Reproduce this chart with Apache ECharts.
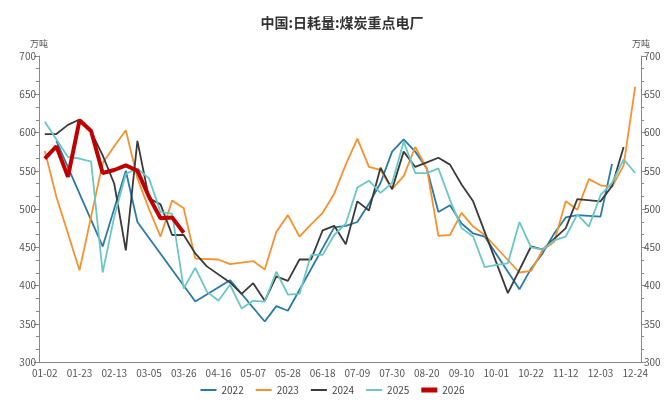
<!DOCTYPE html>
<html><head><meta charset="utf-8">
<script src="https://cdn.jsdelivr.net/npm/echarts@6/dist/echarts.min.js"></script>
<style>html,body{margin:0;padding:0;background:#fff}#c{width:665px;height:401px}</style>
</head><body><div id="c"></div>
<script>
const categories = ["01-02","01-09","01-16","01-23","01-30","02-06","02-13","02-20","02-27","03-05","03-12","03-19","03-26","04-02","04-09","04-16","04-23","04-30","05-07","05-14","05-21","05-28","06-04","06-11","06-18","06-25","07-02","07-09","07-16","07-23","07-30","08-06","08-13","08-20","08-27","09-03","09-10","09-17","09-24","10-01","10-08","10-15","10-22","10-29","11-05","11-12","11-19","11-26","12-03","12-10","12-17","12-24"];
const seriesNames = ["2022","2023","2024","2025","2026"];
const s2022 = [null,589,null,null,null,451,null,550,483,null,null,null,null,379,null,null,407,null,null,353,373,367,null,null,null,476,478,483,507,534,575,591,575,553,496,505,481,468,464,null,null,395,422,442,468,489,492,491,490,559,null,null];
const s2023 = [576,516,null,420,null,560,582,603,540,500,464,511,501,435,null,434,428,null,432,421,470,492,464,480,495,520,558,592,555,551,526,543,581,553,465,466,495,477,466,null,null,417,419,446,457,510,499,539,531,529,557,660];
const s2024 = [598,598,610,617,601,570,533,446,589,514,506,466,466,442,425,null,404,389,403,380,412,406,434,434,472,478,454,510,498,554,526,575,555,561,567,558,532,510,null,null,390,null,451,447,null,475,513,null,510,530,581,null];
const s2025 = [614,null,568,566,562,417,490,546,553,540,496,494,396,423,392,380,401,370,380,379,418,388,389,440,440,466,481,528,537,521,534,588,547,547,553,512,475,464,424,427,429,483,450,447,459,464,493,477,518,534,565,547];
const s2026 = [566,582,542,616,602,547,551,557,550,516,488,489,469,null,null,null,null,null,null,null,null,null,null,null,null,null,null,null,null,null,null,null,null,null,null,null,null,null,null,null,null,null,null,null,null,null,null,null,null,null,null,null];
const colors = ["#2a7aa5","#f5922f","#3a3a3a","#6bc6c6","#c00000"];
const widths = [1.8,1.8,1.8,1.8,4];
const yTicks = {min:300,max:700,interval:50};

const font = '"Noto Sans CJK SC","Noto Sans",sans-serif';
const chart = echarts.init(document.getElementById('c'));
const data = [s2022,s2023,s2024,s2025,s2026];
function yAxis(pos){
  return {
    type:'value', position:pos, min:yTicks.min, max:yTicks.max, interval:yTicks.interval,
    name:'万吨', nameGap:8,
    nameTextStyle:{color:'#555',fontSize:9,fontFamily:font,align:'center'},
    axisLine:{show:true,lineStyle:{color:'#888'}},
    axisTick:{show:true,length:5,lineStyle:{color:'#888'}},
    minorTick:{show:true,splitNumber:3,length:3,lineStyle:{color:'#888'}},
    splitLine:{show:false},
    axisLabel:{color:'#555',fontSize:10,fontFamily:font,margin:3}
  };
}
const thinIcon = 'path://M0,0L16,0L16,2L0,2Z';
chart.setOption({
  backgroundColor:'#fff',
  animation:false,
  title:{text:'中国:日耗量:煤炭重点电厂',left:337,textAlign:'center',top:11,textStyle:{fontSize:14,fontWeight:'bold',color:'#333',fontFamily:font}},
  grid:{left:39,right:24,top:56,bottom:39},
  legend:{bottom:1,left:'center',itemWidth:16,itemHeight:5,itemGap:12,symbolKeepAspect:true,
    textStyle:{color:'#444',fontSize:10,fontFamily:font},
    data:seriesNames.map((n,i)=>({name:n,icon:i===4?'rect':thinIcon}))},
  xAxis:{type:'category',data:categories,boundaryGap:true,
    axisLine:{lineStyle:{color:'#888'}},
    axisTick:{interval:0,alignWithLabel:true,length:5,lineStyle:{color:'#888'}},
    axisLabel:{interval:2,color:'#555',fontSize:10,fontFamily:font,margin:6}},
  yAxis:[yAxis('left'),yAxis('right')],
  series:seriesNames.map((n,i)=>({
    name:n,type:'line',data:data[i],connectNulls:true,showSymbol:false,symbol:'none',
    yAxisIndex:0,z:i===4?10:2,
    lineStyle:{color:colors[i],width:widths[i]},itemStyle:{color:colors[i]}
  }))
});
</script></body></html>
